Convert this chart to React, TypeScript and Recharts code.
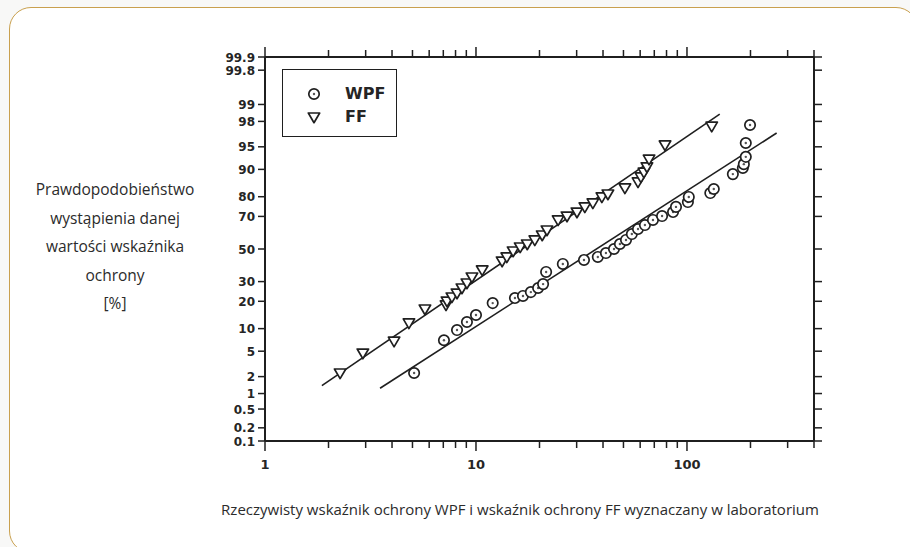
import { ScatterChart, Scatter, XAxis, YAxis, Legend } from "recharts";

// FF (laboratory fit factor) points: value and cumulative probability [%]
const ffX = [2.27, 2.91, 4.09, 4.81, 5.73, 7.21, 7.29, 7.69, 8.13, 8.58, 9.06, 9.57, 10.7, 13.3, 14.0, 15.0, 16.2, 17.5, 19.0, 20.6, 21.7, 24.5, 27.0, 30.1, 32.8, 35.8, 39.5, 42.2, 50.8, 58.6, 60.5, 62.5, 64.6, 66.1, 78.7, 131];
const ffP = [2.3, 4.7, 6.9, 11.7, 16.7, 18.4, 20.1, 22.0, 23.9, 26.5, 29.2, 32.6, 36.8, 42.3, 44.9, 48.7, 51.3, 53.2, 55.8, 58.9, 62.0, 68.0, 70.2, 72.4, 75.1, 77.1, 79.9, 81.2, 83.7, 86.0, 87.7, 89.2, 90.7, 92.6, 95.3, 97.6];

// WPF (workplace protection factor) points
const wpfX = [5.09, 7.05, 8.13, 9.06, 10.0, 12.0, 15.3, 16.7, 18.2, 19.7, 20.8, 21.5, 25.8, 32.5, 37.8, 41.3, 45.1, 48.1, 51.4, 54.8, 58.6, 63.2, 69.0, 76.2, 85.9, 88.7, 101, 102, 129, 134, 165, 184, 186, 190, 190, 199];
const wpfP = [2.3, 7.1, 9.6, 12.0, 14.4, 19.2, 21.5, 22.5, 24.4, 26.5, 28.6, 35.6, 40.5, 43.0, 44.9, 47.4, 50.0, 53.2, 55.8, 59.5, 62.6, 65.0, 68.0, 70.2, 72.4, 75.1, 77.5, 79.9, 81.6, 83.3, 88.6, 90.4, 91.4, 93.1, 95.6, 97.7];

// fitted lines (end points)
const ffFitX = [1.86, 143];
const ffFitP = [1.39, 98.5];
const wpfFitX = [3.51, 266];
const wpfFitP = [1.25, 96.9];

const xTicks = [1, 2, 3, 4, 5, 6, 7, 8, 9, 10, 20, 30, 40, 50, 60, 70, 80, 90, 100, 200, 300, 400];
const xLabels = [1, 10, 100];
const yTicks = [0.1, 0.2, 0.5, 1, 2, 5, 10, 20, 30, 50, 70, 80, 90, 95, 98, 99, 99.8, 99.9];

// inverse normal CDF (probability paper)
function probit(pct: number): number {
  const p = pct / 100;
  const a = [-39.69683028665376, 220.9460984245205, -275.9285104469687, 138.357751867269, -30.66479806614716, 2.506628277459239];
  const b = [-54.47609879822406, 161.5858368580409, -155.6989798598866, 66.80131188771972, -13.28068155288572];
  const c = [-0.007784894002430293, -0.3223964580411365, -2.400758277161838, -2.549732539343734, 4.374664141464968, 2.938163982698783];
  const d = [0.007784695709041462, 0.3224671290700398, 2.445134137142996, 3.754408661907416];
  const lo = 0.02425;
  if (p < lo) {
    const q = Math.sqrt(-2 * Math.log(p));
    return (((((c[0] * q + c[1]) * q + c[2]) * q + c[3]) * q + c[4]) * q + c[5]) / ((((d[0] * q + d[1]) * q + d[2]) * q + d[3]) * q + 1);
  }
  if (p > 1 - lo) {
    const q = Math.sqrt(-2 * Math.log(1 - p));
    return -(((((c[0] * q + c[1]) * q + c[2]) * q + c[3]) * q + c[4]) * q + c[5]) / ((((d[0] * q + d[1]) * q + d[2]) * q + d[3]) * q + 1);
  }
  const q = p - 0.5;
  const r = q * q;
  return ((((((a[0] * r + a[1]) * r + a[2]) * r + a[3]) * r + a[4]) * r + a[5]) * q) / (((((b[0] * r + b[1]) * r + b[2]) * r + b[3]) * r + b[4]) * r + 1);
}

const toRows = (xs: number[], ps: number[]) => xs.map((x, i) => ({ x, z: probit(ps[i]) }));

const ffData = toRows(ffX, ffP);
const wpfData = toRows(wpfX, wpfP);
const ffFit = toRows(ffFitX, ffFitP);
const wpfFit = toRows(wpfFitX, wpfFitP);
const yTickZ = yTicks.map(probit);
const yDomain = [probit(yTicks[0]), probit(yTicks[yTicks.length - 1])];

const INK = "#1f1f1f";
const tickFont = { fontFamily: "DejaVu Sans", fontWeight: 700, fontSize: 12, fill: "#252525" };

const CircleMark = (props: any) => {
  const { cx, cy } = props;
  return (
    <g>
      <circle cx={cx} cy={cy} r={5.2} fill="#fff" stroke={INK} strokeWidth={1.7} />
      <circle cx={cx} cy={cy} r={1.2} fill="#555" />
    </g>
  );
};

const TriMark = (props: any) => {
  const { cx, cy } = props;
  return (
    <path
      d={`M${cx - 5.7},${cy - 4} L${cx + 5.7},${cy - 4} L${cx},${cy + 5.7} Z`}
      fill="#fff"
      stroke={INK}
      strokeWidth={1.7}
      strokeLinejoin="round"
    />
  );
};

const NoMark = () => <g />;

const BottomTick = (props: any) => {
  const { x, y, payload } = props;
  const major = xLabels.includes(payload.value);
  return (
    <g>
      <line x1={x} x2={x} y1={y} y2={y + (major ? 10 : 7)} stroke={INK} strokeWidth={1.5} />
      {major && (
        <text x={x} y={y + 28} textAnchor="middle" {...tickFont} fontSize={13}>
          {payload.value}
        </text>
      )}
    </g>
  );
};

const TopTick = (props: any) => {
  const { x, y, payload } = props;
  const major = xLabels.includes(payload.value);
  return <line x1={x} x2={x} y1={y} y2={y - (major ? 10 : 7)} stroke={INK} strokeWidth={1.5} />;
};

const LeftTick = (props: any) => {
  const { x, y, payload } = props;
  const i = yTickZ.findIndex((z) => Math.abs(z - payload.value) < 1e-6);
  return (
    <g>
      <line x1={x} x2={x - 7} y1={y} y2={y} stroke={INK} strokeWidth={1.5} />
      <text x={x - 10} y={y} dy={4.5} textAnchor="end" {...tickFont}>
        {i >= 0 ? yTicks[i] : ""}
      </text>
    </g>
  );
};

const RightTick = (props: any) => {
  const { x, y } = props;
  return <line x1={x} x2={x + 8} y1={y} y2={y} stroke={INK} strokeWidth={1.5} />;
};

const legendItems = [
  { name: "WPF", Mark: CircleMark },
  { name: "FF", Mark: TriMark },
];

const LegendBox = () => (
  <div
    style={{
      width: 115,
      height: 68,
      boxSizing: "border-box",
      border: `1.5px solid ${INK}`,
      background: "#fff",
      position: "relative",
    }}
  >
    {legendItems.map((it, i) => (
      <div key={it.name} style={{ position: "absolute", left: 0, top: 13 + i * 23, height: 22, width: 115 }}>
        <svg width={20} height={20} style={{ position: "absolute", left: 21, top: 1 }}>
          <it.Mark cx={10} cy={10} />
        </svg>
        <span
          style={{
            position: "absolute",
            left: 62,
            top: 0,
            lineHeight: "22px",
            fontFamily: "DejaVu Sans",
            fontWeight: 700,
            fontSize: 16,
            color: "#252525",
          }}
        >
          {it.name}
        </span>
      </div>
    ))}
  </div>
);

export default function App() {
  return (
    <div style={{ position: "absolute", left: 0, top: 0, width: 910, height: 547, background: "#f8f8f7", overflow: "hidden" }}>
      <div
        style={{
          position: "absolute",
          left: 9,
          top: 7,
          width: 909,
          height: 546,
          boxSizing: "border-box",
          border: "1.5px solid #c9a04e",
          borderRadius: 22,
          background: "#fff",
        }}
      />
      <div style={{ position: "absolute", left: 0, top: 0 }}>
        <ScatterChart width={910} height={547} margin={{ top: 37, right: 76, bottom: 76, left: 205 }}>
          <XAxis
            xAxisId="b"
            dataKey="x"
            type="number"
            scale="log"
            domain={[1, 400]}
            allowDataOverflow
            ticks={xTicks}
            interval={0}
            height={30}
            tickSize={0}
            tickMargin={0}
            tick={<BottomTick />}
            axisLine={{ stroke: INK, strokeWidth: 2 }}
          />
          <XAxis
            xAxisId="t"
            orientation="top"
            dataKey="x"
            type="number"
            scale="log"
            domain={[1, 400]}
            allowDataOverflow
            ticks={xTicks}
            interval={0}
            height={20}
            tickSize={0}
            tickMargin={0}
            tick={<TopTick />}
            axisLine={{ stroke: INK, strokeWidth: 2 }}
          />
          <YAxis
            yAxisId="l"
            dataKey="z"
            type="number"
            domain={yDomain}
            allowDataOverflow
            ticks={yTickZ}
            interval={0}
            width={60}
            tickSize={0}
            tickMargin={0}
            tick={<LeftTick />}
            axisLine={{ stroke: INK, strokeWidth: 2 }}
          />
          <YAxis
            yAxisId="r"
            orientation="right"
            dataKey="z"
            type="number"
            domain={yDomain}
            allowDataOverflow
            ticks={yTickZ}
            interval={0}
            width={20}
            tickSize={0}
            tickMargin={0}
            tick={<RightTick />}
            axisLine={{ stroke: INK, strokeWidth: 2 }}
          />
          <Legend
            layout="vertical"
            align="center"
            verticalAlign="middle"
            content={<LegendBox />}
            wrapperStyle={{ left: 282, top: 69, width: 115, height: 68 }}
          />
          <Scatter
            name="FF fit"
            xAxisId="b"
            yAxisId="l"
            data={ffFit}
            line={{ stroke: INK, strokeWidth: 1.6 }}
            shape={<NoMark />}
            legendType="none"
            isAnimationActive={false}
          />
          <Scatter
            name="WPF fit"
            xAxisId="b"
            yAxisId="l"
            data={wpfFit}
            line={{ stroke: INK, strokeWidth: 1.6 }}
            shape={<NoMark />}
            legendType="none"
            isAnimationActive={false}
          />
          <Scatter name="FF" xAxisId="b" yAxisId="l" data={ffData} shape={<TriMark />} isAnimationActive={false} />
          <Scatter name="WPF" xAxisId="b" yAxisId="l" data={wpfData} shape={<CircleMark />} isAnimationActive={false} />
        </ScatterChart>
      </div>
      <div
        style={{
          position: "absolute",
          left: 15,
          top: 175,
          width: 200,
          textAlign: "center",
          fontFamily: "Open Sans",
          fontSize: 15.5,
          lineHeight: "28.5px",
          color: "#2b2b2b",
        }}
      >
        Prawdopodobieństwo
        <br />
        wystąpienia danej
        <br />
        wartości wskaźnika
        <br />
        ochrony
        <br />
        [%]
      </div>
      <div
        style={{
          position: "absolute",
          left: 120,
          top: 498,
          width: 800,
          textAlign: "center",
          fontFamily: "Open Sans",
          fontSize: 15,
          lineHeight: "22px",
          color: "#2b2b2b",
        }}
      >
        Rzeczywisty wskaźnik ochrony WPF i wskaźnik ochrony FF wyznaczany w laboratorium
      </div>
    </div>
  );
}
